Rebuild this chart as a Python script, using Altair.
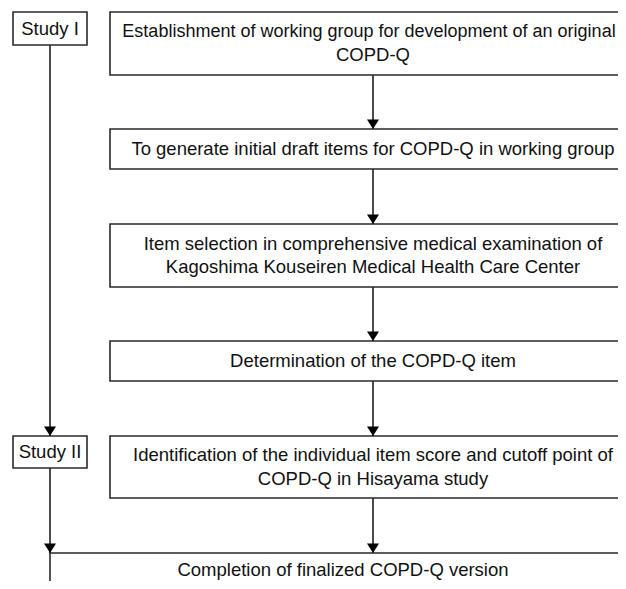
import altair as alt
import pandas as pd

# Flowchart boxes (pixel layout of the original figure)
box_label = [
    "Study I",
    "Study II",
    "Establishment of working group for development of an original\nCOPD-Q",
    "To generate initial draft items for COPD-Q in working group",
    "Item selection in comprehensive medical examination of\nKagoshima Kouseiren Medical Health Care Center",
    "Determination of the COPD-Q item",
    "Identification of the individual item score and cutoff point of\nCOPD-Q in Hisayama study",
    "Completion of finalized COPD-Q version",
]
box_x = [13, 13, 110, 110, 110, 110, 110, 50]
box_x2 = [87, 87, 636, 636, 636, 636, 636, 636]
box_y = [12, 436, 12, 129, 224, 341, 436, 553]
box_y2 = [45, 468, 75, 169, 287, 381, 498, 593]

# Connector arrows
arrow_x = [50, 373, 373, 373, 373, 373, 50]
arrow_from = [45, 75, 169, 287, 381, 498, 468]
arrow_to = [436, 129, 224, 341, 436, 553, 553]

LINE_H = 23.5
FONT = 18.5

boxes = pd.DataFrame({
    "label": box_label, "x": box_x, "x2": box_x2, "y": box_y, "y2": box_y2,
})
boxes["cx"] = (boxes["x"] + boxes["x2"]) / 2
boxes["cy"] = (boxes["y"] + boxes["y2"]) / 2

rows = []
for _, b in boxes.iterrows():
    parts = b["label"].split("\n")
    n = len(parts)
    for i, p in enumerate(parts):
        rows.append({"text": p, "cx": b["cx"],
                     "cy": b["cy"] + (i - (n - 1) / 2) * LINE_H, "fs": FONT})
lines_df = pd.DataFrame(rows)
# keep the long first line and the bottom label inside the visible page
long_row = lines_df["text"].str.startswith("Establishment")
lines_df.loc[long_row, "fs"] = 18
lines_df.loc[long_row, "cx"] = 369
bottom_row = lines_df["text"].str.startswith("Completion")
lines_df.loc[bottom_row, "cy"] = 570

arrows = pd.DataFrame({"x": arrow_x, "y": arrow_from, "y2": arrow_to})

xs = alt.Scale(domain=[8, 618], nice=False, zero=False)
ys = alt.Scale(domain=[8, 581], nice=False, zero=False, reverse=True)

rects = alt.Chart(boxes).mark_rect(
    fill="white", stroke="#2a2a2a", strokeWidth=1.6, clip=True
).encode(
    x=alt.X("x:Q", scale=xs, axis=None),
    x2="x2:Q",
    y=alt.Y("y:Q", scale=ys, axis=None),
    y2="y2:Q",
)

texts = alt.Chart(lines_df).mark_text(
    font="Liberation Sans", color="#111111",
    align="center", baseline="middle"
).encode(
    x=alt.X("cx:Q", scale=xs, axis=None),
    y=alt.Y("cy:Q", scale=ys, axis=None),
    size=alt.Size("fs:Q", scale=None, legend=None),
    text="text:N",
)

lines = alt.Chart(arrows).mark_rule(color="#111111", strokeWidth=1.5).encode(
    x=alt.X("x:Q", scale=xs, axis=None),
    y=alt.Y("y:Q", scale=ys, axis=None),
    y2=alt.Y2("y2:Q"),
)

heads = alt.Chart(arrows).mark_point(
    shape="M-1,-1.6L1,-1.6L0,0Z", filled=True, color="#000000", opacity=1, size=144
).encode(
    x=alt.X("x:Q", scale=xs, axis=None),
    y=alt.Y("y2:Q", scale=ys, axis=None),
)

chart = alt.layer(lines, rects, texts, heads).properties(
    width=610, height=573, padding=0, autosize=alt.AutoSizeParams(type="none"),
    background="white",
).configure_view(stroke=None)

chart.save("out.html", embed_options={"renderer": "svg", "actions": False})
